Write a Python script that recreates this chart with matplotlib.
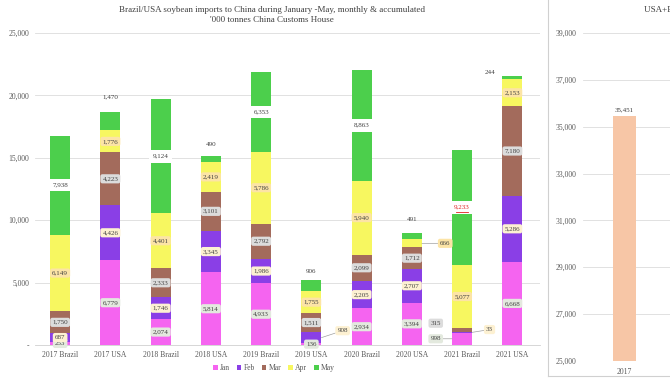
import numpy as np
import matplotlib.pyplot as plt
from matplotlib.lines import Line2D
from matplotlib.ticker import FuncFormatter
from matplotlib.transforms import offset_copy

plt.rcParams['font.family'] = ['Liberation Serif', 'DejaVu Serif']

# '000 tonnes, Jan-May imports by origin
categories = ['2017 Brazil', '2017 USA', '2018 Brazil', '2018 USA', '2019 Brazil',
              '2019 USA', '2020 Brazil', '2020 USA', '2021 Brazil', '2021 USA']
jan = [253, 6779, 2074, 5814, 4933, 136, 2934, 3394, 998, 6668]
feb = [687, 4426, 1746, 3345, 1986, 908, 2205, 2707, 33, 5286]
mar = [1750, 4223, 2333, 3101, 2792, 1511, 2099, 1712, 315, 7180]
apr = [6149, 1776, 4401, 2419, 5786, 1755, 5940, 666, 5077, 2153]
may = [7938, 1470, 9124, 490, 6353, 906, 8863, 491, 9233, 244]

months = ['Jan', 'Feb', 'Mar', 'Apr', 'May']
series = [jan, feb, mar, apr, may]
colors = ['#f564f0', '#8a3fe6', '#a36b5c', '#f7f760', '#4ccf4c']
boxcols = ['#e3e9de', '#fdf1d2', '#dcdcdc', '#fce4a6', 'white']

# right panel: USA+Brazil accumulated
tot_years = ['2017']
tot_values = [35451]

txtcol = '#404040'
fig = plt.figure(figsize=(6.7, 3.8), dpi=100)
ax = fig.add_axes([35/670, 35/380, 505/670, 312/380])

x = np.arange(len(categories))
w = 0.4
bottom = np.zeros(len(categories))
handles = []
for m, vals, c in zip(months, series, colors):
    b = ax.bar(x, vals, w, bottom=bottom, color=c, label=m, zorder=2)
    handles.append(b)
    bottom = bottom + np.array(vals)

# label placement tweaks (points): May labels above the bar, leader-line labels
above = {1: (0, 9), 3: (0, 6.5), 5: (0, 4.5), 7: (0, 8), 9: (-16, 1)}
side = {(5, 1): 11.5, (7, 3): 13, (8, 1): 10, (8, 2): -8, (8, 0): -8}
side_dy = {(5, 1): 5, (8, 1): 2, (8, 2): 5}

base = np.zeros(len(categories))
for j, vals in enumerate(series):
    for i, v in enumerate(vals):
        yc = base[i] + v / 2
        txt = f'{v:,}'
        if j == 4 and i in above:
            top = base[i] + v
            ax.annotate(txt, (x[i], top), xytext=above[i], textcoords='offset points',
                        ha='center', va='bottom', fontsize=5, color=txtcol, zorder=5)
        elif (i, j) in side:
            dx = side[(i, j)]
            edge = x[i] + (w/2 if dx > 0 else -w/2)
            ax.annotate(txt, (edge, yc), xytext=(dx, side_dy.get((i, j), 0)),
                        textcoords='offset points', ha='left' if dx > 0 else 'right',
                        va='center', fontsize=5, color=txtcol, zorder=5,
                        bbox=dict(boxstyle='round,pad=0.3', fc=boxcols[j], ec='none'),
                        arrowprops=dict(arrowstyle='-', color='#a0a0a0', lw=0.5,
                                        shrinkA=0, shrinkB=0) if (i, j) != (8, 2) else None)
        elif i == 8 and j == 4:
            # red, underlined label in the original
            ax.text(x[i], yc, txt, ha='center', va='center', fontsize=5, color='#e02020',
                    zorder=5, bbox=dict(boxstyle='square,pad=0.55', fc='white', ec='none'))
            ax.plot([x[i] - 0.12, x[i] + 0.12], [yc, yc], color='#e02020', lw=0.6, zorder=6,
                    transform=offset_copy(ax.transData, fig=fig, y=-3.2, units='points'))
        else:
            style = 'square,pad=0.55' if j == 4 else 'round,pad=0.3'
            ax.text(x[i], yc, txt, ha='center', va='center', fontsize=5, color=txtcol,
                    zorder=5, bbox=dict(boxstyle=style, fc=boxcols[j], ec='none'))
    base = base + np.array(vals)

ax.set_xlim(-0.5, 9.55)
ax.set_ylim(0, 25000)
ax.set_yticks(np.arange(0, 25001, 5000))
ax.yaxis.set_major_formatter(FuncFormatter(lambda v, p: '-' if v == 0 else f'{int(v):,}'))
ax.set_xticks(x)
ax.set_xticklabels(categories)
ax.tick_params(length=0, labelsize=5.5, colors='#595959', pad=4)
ax.yaxis.grid(True, color='#dcdcdc', lw=0.6)
ax.set_axisbelow(True)
for s in ['top', 'right', 'left']:
    ax.spines[s].set_visible(False)
ax.spines['bottom'].set_color('#d0d0d0')
ax.spines['bottom'].set_linewidth(0.6)

ax.legend(handles=handles, loc='center', bbox_to_anchor=(274/670, 12/380),
          bbox_transform=fig.transFigure, ncol=5, frameon=False, fontsize=5.5,
          handlelength=0.6, handleheight=0.6, handletextpad=0.3, columnspacing=0.9,
          labelcolor='#595959')

fig.text(272/670, 1 - 10/380,
         'Brazil/USA soybean imports to China during January -May, monthly & accumulated',
         ha='center', va='center', fontsize=6.5, color=txtcol)
fig.text(272/670, 1 - 20/380, "'000 tonnes China Customs House",
         ha='center', va='center', fontsize=6.5, color=txtcol)

# right panel
ax2 = fig.add_axes([583/670, 19/380, 200/670, 328/380])
ax2.bar(np.arange(len(tot_years)), tot_values, 0.277, color='#f7c6a6', zorder=2)
for i, v in enumerate(tot_values):
    ax2.annotate(f'{v:,}', (i, v), xytext=(0, 3), textcoords='offset points',
                 ha='center', va='bottom', fontsize=5, color=txtcol)
ax2.set_xlim(-0.5, 1.91)
ax2.set_ylim(25000, 39000)
ax2.set_yticks(np.arange(25000, 39001, 2000))
ax2.yaxis.set_major_formatter(FuncFormatter(lambda v, p: f'{int(v):,}'))
ax2.set_xticks(np.arange(len(tot_years)))
ax2.set_xticklabels(tot_years)
ax2.tick_params(length=0, labelsize=5.5, colors='#595959', pad=5)
ax2.yaxis.grid(True, color='#dcdcdc', lw=0.6)
ax2.set_axisbelow(True)
for s in ['top', 'right', 'left', 'bottom']:
    ax2.spines[s].set_visible(False)
fig.text(644/670, 1 - 10/380, 'USA+Brazil soybean imports', ha='left', va='center',
         fontsize=6.5, color=txtcol)

# chart frame of the right panel
fig.add_artist(Line2D([548/670, 548/670], [4/380, 1], color='#d0d0d0', lw=0.8))
fig.add_artist(Line2D([548/670, 1], [4/380, 4/380], color='#d0d0d0', lw=0.8))

fig.savefig('out.png', dpi=100)
